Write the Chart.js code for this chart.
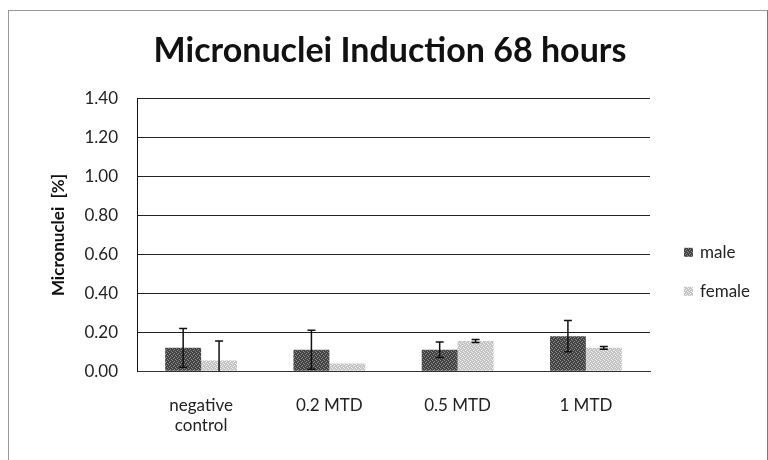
<!DOCTYPE html>
<html>
<head>
<meta charset="utf-8">
<script src="https://cdn.jsdelivr.net/npm/chart.js@4.4.1/dist/chart.umd.min.js"></script>
<style>
  html, body { margin: 0; padding: 0; background: #fff; }
  #wrap { position: relative; width: 768px; height: 460px; }
  #frame { position: absolute; left: 8px; top: 10px; width: 758px; height: 460px;
           border-left: 1px solid #999; border-top: 1px solid #999; border-right: 1px solid #777;
           pointer-events: none; }
</style>
</head>
<body>
<div id="wrap">
  <canvas id="mnChart" width="768" height="460"></canvas>
  <div id="frame"></div>
</div>
<script>
var categories = [['negative', 'control'], '0.2 MTD', '0.5 MTD', '1 MTD'];
var maleValues = [0.12, 0.11, 0.11, 0.18];
var maleErrors = [0.10, 0.10, 0.04, 0.08];
var femaleValues = [0.055, 0.04, 0.155, 0.12];
var femaleErrors = [0.10, 0, 0.008, 0.007];
var yTicks = [0, 0.2, 0.4, 0.6, 0.8, 1.0, 1.2, 1.4];

var canvas = document.getElementById('mnChart');
var ctx = canvas.getContext('2d');

// stippled fills like the printed bars
function makePattern(base, speck) {
    var p = document.createElement('canvas');
    p.width = 4;
    p.height = 4;
    var g = p.getContext('2d');
    g.fillStyle = base;
    g.fillRect(0, 0, 4, 4);
    g.fillStyle = speck;
    g.fillRect(0, 0, 1, 1);
    g.fillRect(2, 1, 1, 1);
    g.fillRect(1, 2, 1, 1);
    g.fillRect(3, 3, 1, 1);
    return ctx.createPattern(p, 'repeat');
}
var maleFill = makePattern('#444444', '#8a8a8a');
var femaleFill = makePattern('#c4c4c4', '#efefef');

var errorBars = {
    id: 'errorBars',
    afterDatasetsDraw(chart) {
        var y = chart.scales.y;
        var c = chart.ctx;
        c.save();
        c.strokeStyle = '#111';
        c.lineWidth = 1.5;
        chart.data.datasets.forEach((ds, i) => {
            chart.getDatasetMeta(i).data.forEach((bar, j) => {
                var err = ds.errors[j];
                if (!err) return;
                var top = y.getPixelForValue(ds.data[j] + err);
                var bottom = y.getPixelForValue(Math.max(0, ds.data[j] - err));
                c.beginPath();
                c.moveTo(bar.x, top);
                c.lineTo(bar.x, bottom);
                c.moveTo(bar.x - 4, top);
                c.lineTo(bar.x + 4, top);
                if (ds.data[j] - err > 0) {
                    c.moveTo(bar.x - 4, bottom);
                    c.lineTo(bar.x + 4, bottom);
                }
                c.stroke();
            });
        });
        c.restore();
    }
};

var sideLegend = {
    id: 'sideLegend',
    afterDraw(chart) {
        var area = chart.chartArea;
        var c = chart.ctx;
        c.save();
        c.font = '17px Lato';
        c.textBaseline = 'middle';
        chart.data.datasets.forEach((ds, i) => {
            var cy = area.top + 154 + i * 39;
            c.fillStyle = ds.backgroundColor;
            c.fillRect(area.right + 34, cy - 5, 9, 9);
            c.fillStyle = '#222';
            c.fillText(ds.label, area.right + 50, cy);
        });
        c.restore();
    }
};

var myChart = new Chart(ctx, {
    type: 'bar',
    data: {
        labels: categories,
        datasets: [{
            label: 'male',
            data: maleValues,
            errors: maleErrors,
            backgroundColor: maleFill
        }, {
            label: 'female',
            data: femaleValues,
            errors: femaleErrors,
            backgroundColor: femaleFill
        }]
    },
    plugins: [errorBars, sideLegend],
    options: {
        responsive: false,
        animation: false,
        layout: {
            padding: { left: 12, right: 0, top: 0, bottom: 8 }
        },
        datasets: {
            bar: { categoryPercentage: 0.56, barPercentage: 1.0 }
        },
        plugins: {
            legend: { display: false },
            tooltip: { enabled: false },
            title: {
                display: true,
                text: 'Micronuclei Induction 68 hours',
                color: '#111',
                font: { family: 'Lato', size: 34, weight: 'bold' },
                padding: { top: 31, bottom: 27 }
            }
        },
        scales: {
            x: {
                grid: { display: false },
                border: { display: true, color: '#333', width: 1 },
                ticks: {
                    color: '#222',
                    font: { family: 'Lato', size: 17, lineHeight: 1.2 },
                    padding: 16,
                    maxRotation: 0
                }
            },
            y: {
                min: 0,
                max: 1.4,
                afterBuildTicks(scale) {
                    scale.ticks = yTicks.map(v => ({ value: v }));
                },
                afterFit(scale) {
                    scale.width = 125;
                },
                grid: { color: '#222', lineWidth: 1, drawTicks: false },
                border: { display: true, color: '#111', width: 1 },
                ticks: {
                    color: '#222',
                    font: { family: 'Lato', size: 17 },
                    padding: 19,
                    callback: v => v.toFixed(2)
                },
                title: {
                    display: true,
                    text: 'Micronuclei  [%]',
                    color: '#111',
                    font: { family: 'Lato', size: 17, weight: 'bold' },
                    padding: { top: 36, bottom: 0 }
                }
            },
            // keeps room on the right for the legend
            side: {
                position: 'right',
                display: true,
                grid: { display: false },
                border: { display: false },
                ticks: { display: false },
                afterFit(scale) {
                    scale.width = 118;
                }
            }
        }
    }
});
</script>
</body>
</html>
